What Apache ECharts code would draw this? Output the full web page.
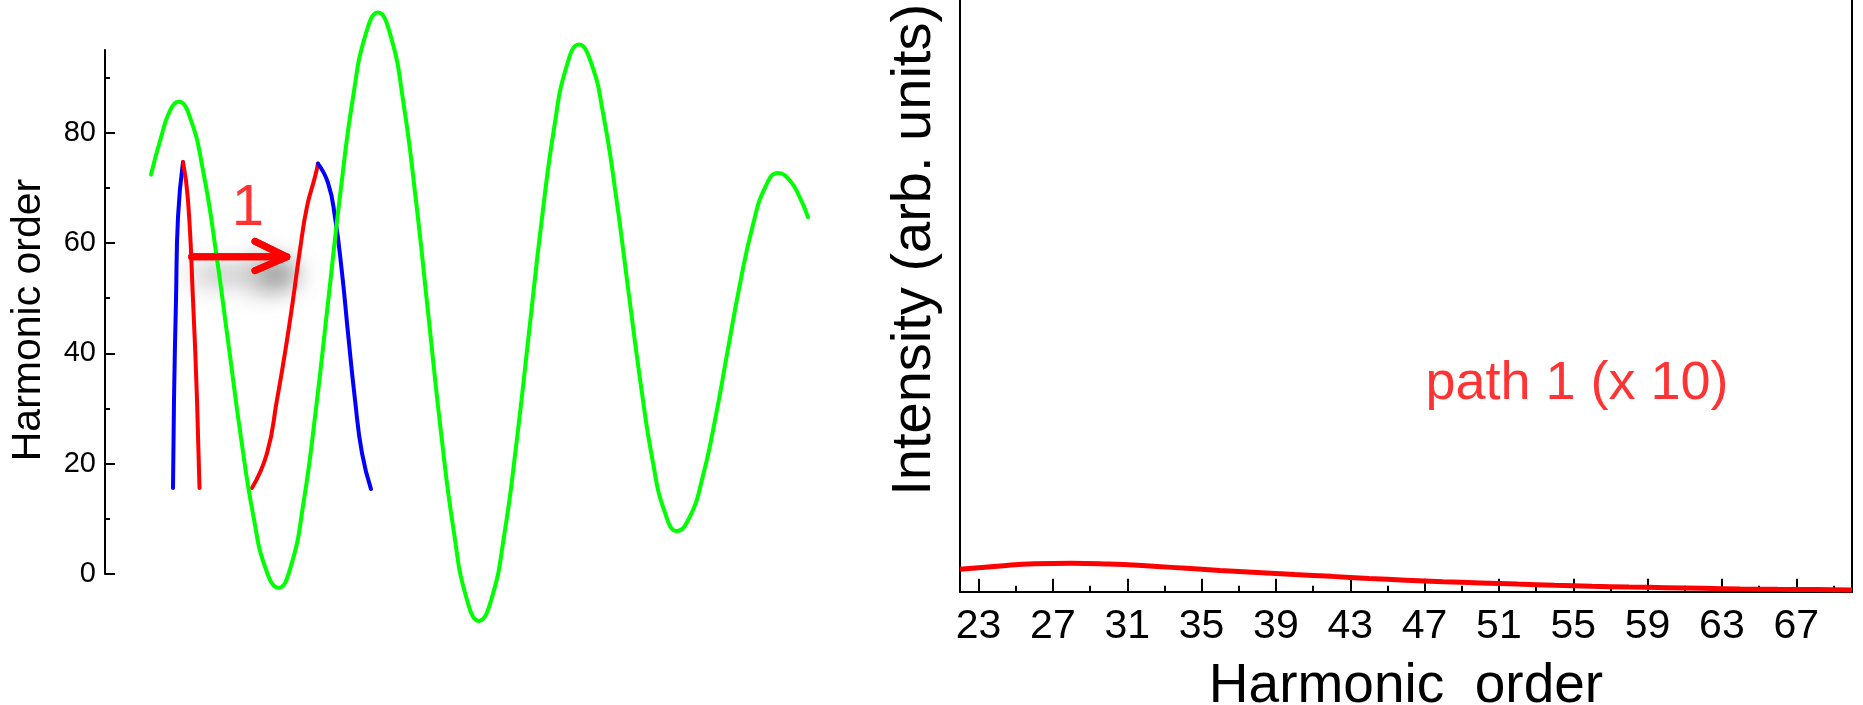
<!DOCTYPE html>
<html>
<head>
<meta charset="utf-8">
<script src="https://cdn.jsdelivr.net/npm/echarts@6/dist/echarts.min.js"></script>
<style>
  html, body { margin: 0; padding: 0; background: #fff; }
  #chart { width: 1863px; height: 705px; }
</style>
</head>
<body>
<div id="chart"></div>
<script>
// left panel: [time (hidden axis), harmonic order]
const fieldCurve = [
  [0.46, 72.4], [0.55, 78.5], [0.65, 84.0], [0.735, 85.6], [0.85, 82.8], [0.985, 72.7],
  [1.11, 58.4], [1.235, 41.6], [1.36, 24.7], [1.485, 10.4], [1.61, 0.8], [1.735, -2.5],
  [1.86, 1.5], [1.984, 12.8], [2.108, 29.7], [2.233, 49.7], [2.357, 69.6], [2.481, 86.5],
  [2.606, 97.8], [2.73, 101.8], [2.856, 97.6], [2.983, 85.6], [3.109, 67.8], [3.235, 46.7],
  [3.361, 25.5], [3.488, 7.7], [3.614, -4.3], [3.74, -8.5], [3.865, -4.5], [3.99, 6.8],
  [4.115, 23.8], [4.24, 43.8], [4.365, 63.8], [4.49, 80.7], [4.615, 92.0], [4.74, 96.0],
  [4.863, 92.6], [4.985, 83.1], [5.108, 68.8], [5.23, 51.9], [5.353, 35.0], [5.475, 20.7],
  [5.598, 11.2], [5.72, 7.8], [5.846, 10.3], [5.973, 17.3], [6.099, 27.8], [6.225, 40.3],
  [6.351, 52.7], [6.478, 63.2], [6.604, 70.2], [6.73, 72.7], [6.85, 71.3], [6.95, 68.2],
  [7.03, 64.7]
]
const redShort = [[0.78, 74.7], [0.83, 67.8], [0.88, 49.7], [0.92, 31.6], [0.945, 15.6]]
const blueShort = [[0.68, 15.6], [0.69, 31.6], [0.71, 49.7], [0.73, 64.7], [0.78, 74.7]]
const redLong = [
  [1.47, 15.6], [1.62, 21.9], [1.72, 31.6], [1.80, 40.1], [1.88, 49.7],
  [1.95, 58.8], [2.02, 66.6], [2.10, 72.0], [2.13, 74.4]
]
const blueLong = [
  [2.13, 74.4], [2.23, 70.9], [2.30, 64.7], [2.37, 54.6], [2.43, 43.7],
  [2.50, 31.6], [2.57, 21.9], [2.66, 15.4]
]
const arrowShaft = [[0.867, 57.5], [1.817, 57.5]]
const arrowHead = [[1.50, 60.3], [1.817, 57.5], [1.50, 55.0]]
const arrowLabel = [[1.43, 66.2]]
const orderTicks = [0, 20, 40, 60, 80]
const orderMinorTicks = [10, 30, 50, 70, 90]

// right panel: harmonic order vs intensity (arb.)
const harmonics = [22, 24, 26, 28, 30, 32, 34, 36, 38, 40, 42, 44, 46, 48, 50, 52, 54, 56, 58, 60, 62, 64, 66, 68, 70]
const path1Intensity = [3.39, 3.86, 4.24, 4.30, 4.18, 3.92, 3.57, 3.22, 2.91, 2.59, 2.32, 2.01, 1.74, 1.51, 1.33, 1.15, 0.98, 0.83, 0.71, 0.61, 0.51, 0.42, 0.36, 0.32, 0.27]
const harmonicTicks = [23, 27, 31, 35, 39, 43, 47, 51, 55, 59, 63, 67]
const harmonicMinorTicks = [25, 29, 33, 37, 41, 45, 49, 53, 57, 61, 65, 69]
const path1Label = [[55.2, 31.4]]

const FONT = "'Liberation Sans', Arial, sans-serif"
const black = { color: '#000', width: 2 }

const chart = echarts.init(document.getElementById('chart'))

const lineSeries = (data, color, width, z) => ({
  type: 'line',
  xAxisIndex: 0,
  yAxisIndex: 0,
  data: data,
  smooth: true,
  showSymbol: false,
  clip: false,
  silent: true,
  z: z,
  lineStyle: { color: color, width: width, cap: 'round', join: 'round' }
})

const textPoint = (data, text, size, xi, yi) => ({
  type: 'scatter',
  xAxisIndex: xi,
  yAxisIndex: yi,
  data: data,
  symbolSize: 1,
  silent: true,
  z: 6,
  itemStyle: { color: 'rgba(0,0,0,0)' },
  label: {
    show: true,
    position: 'inside',
    formatter: text,
    color: '#ff0000',
    fontSize: size,
    fontFamily: FONT
  }
})

// arrow drawn once with shadow underneath, then again on top
const shadowArrow = (data) => {
  const s = lineSeries(data, '#ff0000', 7, 1)
  s.smooth = false
  s.lineStyle.shadowColor = 'rgba(0,0,0,0.65)'
  s.lineStyle.shadowBlur = 26
  s.lineStyle.shadowOffsetX = 5
  s.lineStyle.shadowOffsetY = 18
  return s
}
const topArrow = (data) => {
  const s = lineSeries(data, '#ff0000', 7, 5)
  s.smooth = false
  return s
}

const option = {
  animation: false,
  backgroundColor: '#fff',
  textStyle: { fontFamily: FONT },
  grid: [
    { left: 105, top: 50, width: 725, bottom: 131, outerBoundsMode: 'none' },
    { left: 960, right: 11, top: -69, bottom: 113.3, outerBoundsMode: 'none' }
  ],
  xAxis: [
    { gridIndex: 0, type: 'value', min: 0, max: 7.25, show: false },
    {
      gridIndex: 1, type: 'value', position: 'bottom', min: 22, max: 70,
      axisLine: { show: true, lineStyle: black },
      axisTick: { show: true, inside: true, length: 13, customValues: harmonicTicks, lineStyle: black },
      axisLabel: { customValues: harmonicTicks, fontSize: 41, margin: 14, color: '#000', fontFamily: FONT },
      splitLine: { show: false },
      name: 'Harmonic  order',
      nameLocation: 'middle',
      nameGap: 68,
      nameTextStyle: { fontSize: 55, color: '#000', fontFamily: FONT }
    },
    {
      gridIndex: 1, type: 'value', position: 'bottom', min: 22, max: 70,
      axisLine: { show: false },
      axisTick: { show: true, inside: true, length: 6, customValues: harmonicMinorTicks, lineStyle: black },
      axisLabel: { show: false },
      splitLine: { show: false }
    }
  ],
  yAxis: [
    {
      gridIndex: 0, type: 'value', position: 'left', min: 0, max: 95,
      axisLine: { show: true, lineStyle: black },
      axisTick: { show: true, inside: true, length: 10, customValues: orderTicks, lineStyle: black },
      axisLabel: { customValues: orderTicks, fontSize: 29, margin: 9, color: '#000', fontFamily: FONT },
      splitLine: { show: false },
      name: 'Harmonic order',
      nameLocation: 'middle',
      nameRotate: 90,
      nameGap: 56,
      nameTextStyle: { fontSize: 41, color: '#000', fontFamily: FONT, padding: [0, 16, 0, 0] }
    },
    {
      gridIndex: 0, type: 'value', position: 'left', min: 0, max: 95,
      axisLine: { show: false },
      axisTick: { show: true, inside: true, length: 5, customValues: orderMinorTicks, lineStyle: black },
      axisLabel: { show: false },
      splitLine: { show: false }
    },
    {
      gridIndex: 1, type: 'value', position: 'left', min: 0, max: 100,
      axisLine: { show: true, lineStyle: black },
      axisTick: { show: false },
      axisLabel: { show: false },
      splitLine: { show: false },
      name: 'Intensity (arb. units)',
      nameLocation: 'middle',
      nameRotate: 90,
      nameGap: 17,
      nameTextStyle: { fontSize: 56, color: '#000', fontFamily: FONT, padding: [0, 0, 0, 23] }
    },
    {
      gridIndex: 1, type: 'value', position: 'right', min: 0, max: 100,
      axisLine: { show: true, lineStyle: black },
      axisTick: { show: false },
      axisLabel: { show: false },
      splitLine: { show: false }
    }
  ],
  series: [
    shadowArrow(arrowShaft),
    shadowArrow(arrowHead),
    lineSeries(blueShort, '#0000ff', 4, 2),
    lineSeries(redShort, '#ff0000', 4, 3),
    lineSeries(redLong, '#ff0000', 4, 2),
    lineSeries(blueLong, '#0000ff', 4, 3),
    lineSeries(fieldCurve, '#00ff00', 4, 4),
    topArrow(arrowShaft),
    topArrow(arrowHead),
    textPoint(arrowLabel, '1', 58, 0, 0),
    {
      type: 'line',
      xAxisIndex: 1,
      yAxisIndex: 2,
      data: harmonics.map((h, i) => [h, path1Intensity[i]]),
      smooth: true,
      showSymbol: false,
      clip: false,
      silent: true,
      lineStyle: { color: '#ff0000', width: 5 }
    },
    textPoint(path1Label, 'path 1 (x 10)', 54, 1, 2)
  ]
}

chart.setOption(option)
</script>
</body>
</html>
